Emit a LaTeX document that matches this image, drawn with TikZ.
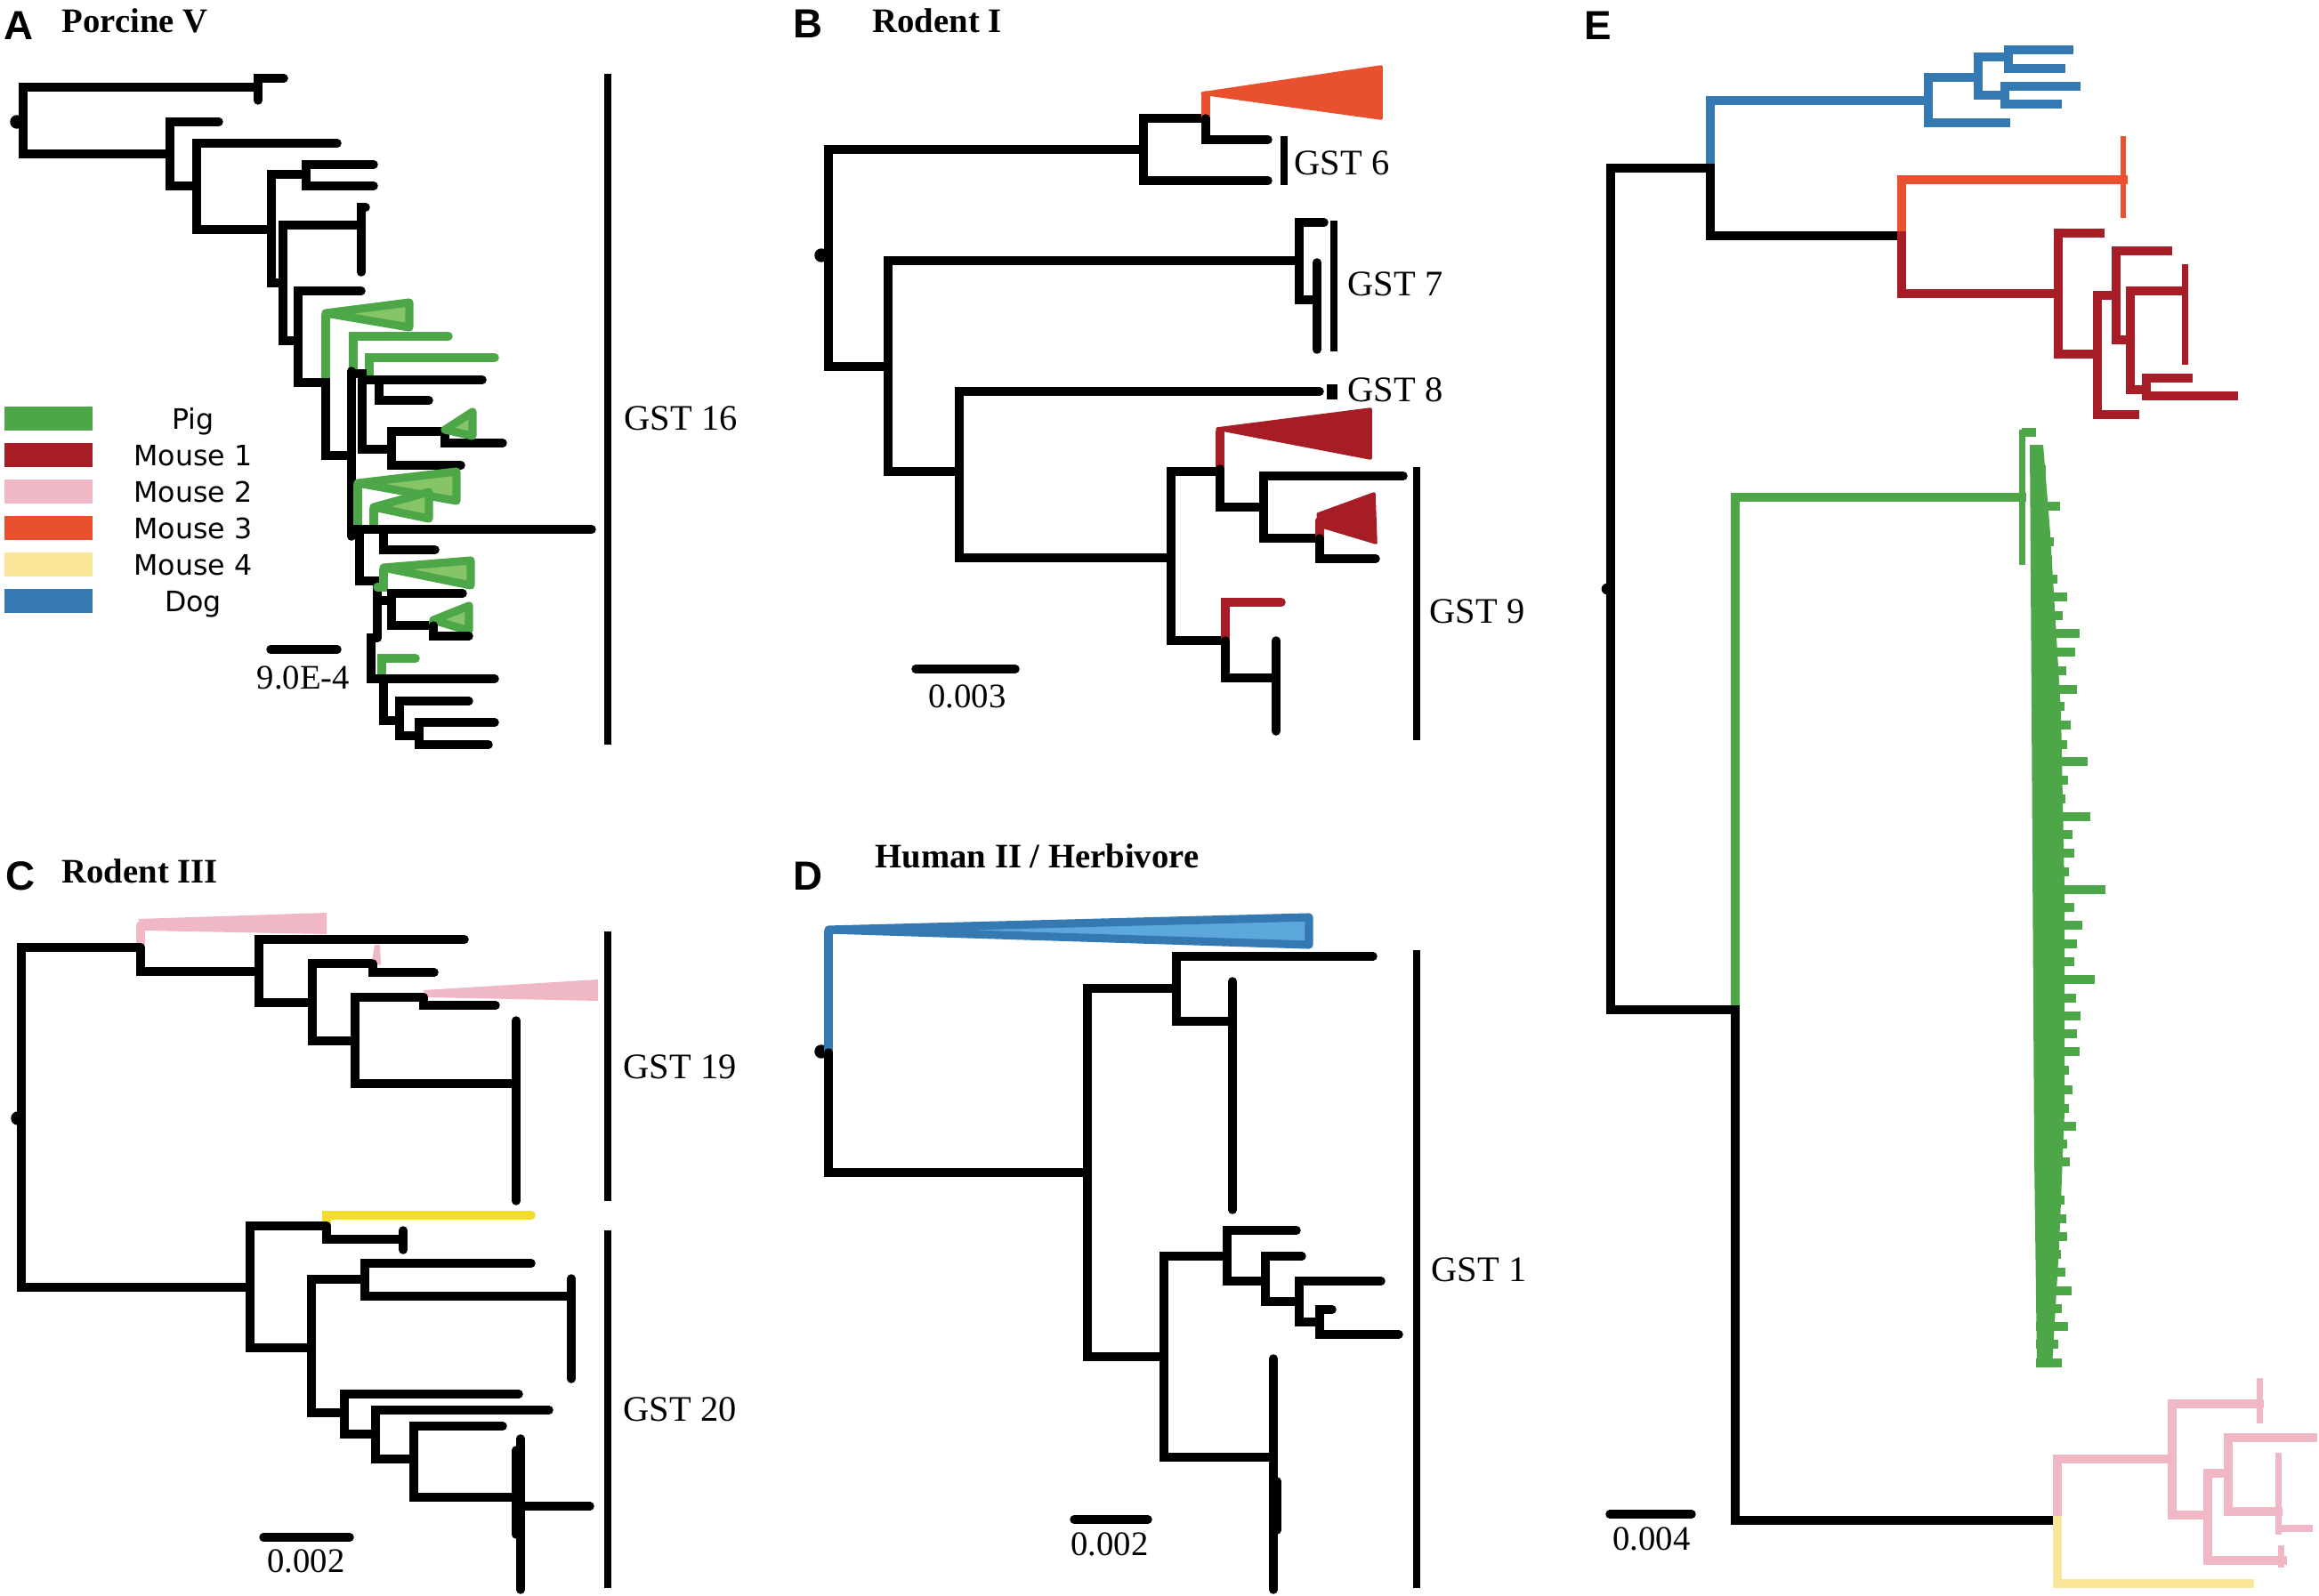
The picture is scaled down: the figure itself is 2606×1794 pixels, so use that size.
\documentclass[tikz,border=0pt]{standalone}
\usepackage{fontspec}
\setmainfont{Liberation Serif}
\newfontfamily\lettfont{Liberation Sans}
\newfontfamily\legfont{DejaVu Sans}
\definecolor{pig}{RGB}{77,167,73}
\definecolor{pigl}{RGB}{134,196,104}
\definecolor{m1}{RGB}{166,29,38}
\definecolor{m2}{RGB}{240,183,196}
\definecolor{m3}{RGB}{233,80,45}
\definecolor{m4}{RGB}{249,230,153}
\definecolor{dog}{RGB}{52,121,178}
\definecolor{dogl}{RGB}{92,168,220}
\definecolor{yel}{RGB}{242,220,45}
\begin{document}
\begin{tikzpicture}[x=0.01cm, y=-0.01cm, line join=miter,
    br/.style={line width=2.7pt, line cap=round},
    eb/.style={line width=2.9pt, line cap=rect},
    gstbar/.style={line width=2.2pt},
    tri/.style={draw=pig, fill=pigl, line width=2.6pt, line join=round},
    dtri/.style={draw=dog, fill=dogl, line width=2.6pt, line join=round},
    lett/.style={font=\lettfont\bfseries\fontsize{13}{15}\selectfont, inner sep=0, anchor=base west},
    ttl/.style={font=\bfseries\fontsize{11}{13}\selectfont, inner sep=0, anchor=base west},
    gst/.style={font=\fontsize{11.5}{13}\selectfont, inner sep=0, anchor=base west},
    sc/.style={font=\fontsize{11}{13}\selectfont, inner sep=0, anchor=base},
    leg/.style={font=\legfont\fontsize{9}{11}\selectfont, inner sep=0, anchor=base}]
\useasboundingbox (0,0) rectangle (2606,1794);

% A
\node[lett] (lA) at (4,45) {A};
\node[ttl] (tA) at (69,37) {Porcine V};
\fill (19,137) circle (2.2pt);
\draw[br] (290,98) -| (26,173) -- (191,173);
\draw[br] (319,88) -| (290,113);
\draw[br] (246,137) -| (191,209) -- (221,209);
\draw[br] (379,161) -| (221,258) -- (305,258);
\draw[br] (344,196) -| (305,318) -- (318,318);
\draw[br] (420,185) -| (344,209) -- (420,209);
\draw[br] (406,253) -| (318,383) -- (335,383);
\draw[br] (411,233) -| (406,306);
\draw[br,pig] (366,430) -- (366,354);
\draw[tri] (366,352) -- (460,340) -- (460,368) -- cycle;
\draw[br] (406,327) -| (335,430) -- (366,430) -- (366,512) -- (395,512);
\draw[br,pig] (504,378) -| (397,417);
\draw[br,pig] (556,402) -| (415,425);
\draw[br] (395,417) -- (395,603);
\draw[br] (395,420) -- (407,420) -- (407,505) -- (440,505);
\draw[br] (407,427) -- (542,427);
\draw[br] (426,427) -- (426,450) -- (482,450);
\draw[br] (500,485) -| (440,523) -- (518,523);
\draw[br] (500,485) -- (500,498) -- (565,498);
\draw[tri] (500,483) -- (531,463) -- (531,490) -- cycle;
\draw[br,pig] (402,595) -- (402,545);
\draw[tri] (402,543) -- (513,530) -- (513,563) -- cycle;
\draw[br,pig] (420,595) -- (420,572);
\draw[tri] (420,570) -- (482,553) -- (482,583) -- cycle;
\draw[br] (395,595) -- (665,595);
\draw[br] (431,595) -- (431,618) -- (489,618);
\draw[br] (404,600) -- (404,653) -- (424,653) -- (424,717);
\draw[br,pig] (424,660) -- (431,660) -- (431,640);
\draw[tri] (431,638) -- (529,630) -- (529,658) -- cycle;
\draw[br] (424,675) -- (440,675);
\draw[br] (520,667) -| (440,703) -- (487,703);
\draw[br,pig] (487,703) -- (487,699);
\draw[tri] (487,697) -- (527,681) -- (527,709) -- cycle;
\draw[br] (487,703) -- (487,715) -- (527,715);
\draw[br,pig] (429,762) -- (429,740) -- (467,740);
\draw[br] (424,717) -- (417,717) -- (417,763) -- (556,763);
\draw[br] (431,763) -- (431,810) -- (449,810);
\draw[br] (527,788) -| (449,827) -- (471,827);
\draw[br] (556,812) -| (471,837) -- (549,837);
\draw[br] (304,730) -- (379,730);
\node[sc] (sA) at (341,774) {9.0E-4};
\draw[gstbar] (683,83) -- (683,837);
\node[gst] (g16) at (701,483) {GST 16};
\foreach \c/\t [count=\i] in {pig/Pig, m1/Mouse 1, m2/Mouse 2, m3/Mouse 3, m4/Mouse 4, dog/Dog}{
  \fill[\c] (5,416+41*\i) rectangle (104,443+41*\i);
  \node[leg] (lg\i) at (217,441+41*\i) {\t};
}

% B
\node[lett] (lB) at (891,43) {B};
\node[ttl] (tB) at (980,37) {Rodent I};
\fill (923,287) circle (2.2pt);
\draw[br] (1285,168) -| (931,412) -- (998,412);
\draw[br] (1355,133) -| (1285,203) -- (1425,203);
\filldraw[m3, line width=1pt, line join=round] (1351,105) -- (1552,75) -- (1552,133) -- cycle;
\draw[br,m3] (1355,133) -- (1355,107);
\draw[br] (1355,133) -- (1355,157) -- (1425,157);
\draw[gstbar] (1443,153) -- (1443,208);
\node[gst] (g6) at (1454,197) {GST 6};
\draw[br] (1460,293) -| (998,530) -- (1078,530);
\draw[br] (1488,250) -| (1460,337) -- (1480,337);
\draw[br] (1480,295) -- (1480,393);
\draw[gstbar] (1499,248) -- (1499,395);
\node[gst] (g7) at (1514,332) {GST 7};
\draw[br] (1483,440) -| (1078,627) -- (1316,627);
\draw[gstbar, line width=3.4pt] (1497,432) -- (1497,449);
\node[gst] (g8) at (1514,451) {GST 8};
\draw[br] (1371,530) -| (1316,720) -- (1377,720);
\filldraw[m1, line width=1pt, line join=round] (1368,482) -- (1540,460) -- (1540,515) -- cycle;
\draw[br,m1] (1371,527) -- (1371,485);
\draw[br] (1371,527) -- (1371,570) -- (1420,570);
\draw[br] (1577,535) -| (1420,605) -- (1483,605);
\filldraw[m1, line width=1pt, line join=round] (1481,578) -- (1544,555) -- (1546,610) -- (1486,592) -- cycle;
\draw[br,m1] (1483,603) -- (1483,585);
\draw[br] (1483,605) -- (1483,628) -- (1546,628);
\draw[br,m1] (1377,720) -- (1377,677) -- (1440,677);
\draw[br] (1377,720) -- (1377,762) -- (1434,762);
\draw[br] (1434,720) -- (1434,822);
\draw[gstbar] (1592,525) -- (1592,832);
\node[gst] (g9) at (1606,700) {GST 9};
\draw[br] (1029,752) -- (1141,752);
\node[sc] (sB) at (1087,795) {0.003};

% C
\node[lett] (lC) at (6,1000) {C};
\node[ttl] (tC) at (69,992) {Rodent III};
\fill (20,1257) circle (2.2pt);
\fill[m2] (155,1033) -- (367,1026) -- (367,1050) -- (163,1046) -- cycle;
\draw[br,m2] (158,1062) -- (158,1040);
\draw[br] (158,1065) -| (24,1447) -- (281,1447);
\draw[br] (158,1065) -- (158,1092) -- (291,1092);
\draw[br] (522,1056) -| (291,1127) -- (351,1127);
\draw[br] (419,1083) -| (351,1170) -- (399,1170);
\fill[m2] (417,1086) -- (421,1062) -- (427,1062) -- (428,1084) -- cycle;
\draw[br] (419,1083) -- (419,1093) -- (488,1093);
\fill[m2] (476,1113) -- (672,1101) -- (672,1125) -- (478,1121) -- cycle;
\draw[br] (476,1121) -| (399,1218) -- (580,1218);
\draw[br] (476,1121) -- (476,1130) -- (557,1130);
\draw[br] (580,1147) -- (580,1350);
\draw[gstbar] (683,1047) -- (683,1350);
\node[gst] (g19) at (700,1212) {GST 19};
\draw[br,yel] (367,1378) -- (367,1366) -- (597,1366);
\draw[br] (367,1378) -| (281,1515) -- (350,1515);
\draw[br] (367,1378) -- (367,1393) -- (453,1393);
\draw[br] (453,1383) -- (453,1405);
\draw[br] (410,1438) -| (350,1588) -- (387,1588);
\draw[br] (597,1420) -| (410,1457) -- (642,1457);
\draw[br] (642,1437) -- (642,1550);
\draw[br] (583,1567) -| (387,1612) -- (422,1612);
\draw[br] (617,1585) -| (422,1640) -- (465,1640);
\draw[br] (565,1603) -| (465,1683) -- (585,1683);
\draw[br] (585,1617) -- (585,1787);
\draw[br] (580,1630) -- (580,1725);
\draw[br] (585,1693) -- (663,1693);
\draw[gstbar] (683,1383) -- (683,1785);
\node[gst] (g20) at (700,1597) {GST 20};
\draw[br] (296,1728) -- (393,1728);
\node[sc] (sC) at (344,1767) {0.002};

% D
\node[lett] (lD) at (891,1000) {D};
\node[ttl] (tD) at (983,975) {Human II / Herbivore};
\fill (923,1182) circle (2.2pt);
\draw[br,dog] (931,1183) -- (931,1047);
\draw[dtri] (931,1045) -- (1471,1031) -- (1471,1062) -- cycle;
\draw[br] (931,1183) -- (931,1318) -- (1222,1318);
\draw[br] (1322,1111) -| (1222,1525) -- (1308,1525);
\draw[br] (1543,1075) -| (1322,1148) -- (1385,1148);
\draw[br] (1385,1103) -- (1385,1360);
\draw[br] (1379,1412) -| (1308,1638) -- (1431,1638);
\draw[br] (1457,1383) -| (1379,1440) -- (1422,1440);
\draw[br] (1463,1412) -| (1422,1463) -- (1460,1463);
\draw[br] (1552,1440) -| (1460,1486) -- (1483,1486);
\draw[br] (1497,1472) -| (1483,1500) -- (1572,1500);
\draw[br] (1431,1527) -- (1431,1787);
\draw[br] (1435,1665) -- (1435,1720);
\draw[gstbar] (1592,1068) -- (1592,1785);
\node[gst] (g1) at (1608,1440) {GST 1};
\draw[br] (1207,1708) -- (1290,1708);
\node[sc] (sD) at (1247,1748) {0.002};

% E
\node[lett] (lE) at (1780,45) {E};
\fill (1806,662) circle (1.8pt);
\draw[eb] (1922,189) -| (1810,1135) -- (1950,1135);
\draw[eb,dog] (2167,113) -| (1922,189);
\draw[eb] (1922,189) -- (1922,265) -- (2137,265);
\draw[eb,dog] (2223,87) -| (2167,138) -- (2254,138);
\draw[eb,dog] (2257,64) -| (2223,107) -- (2253,107);
\draw[eb,dog] (2325,56) -| (2257,77) -- (2316,77);
\draw[eb,dog] (2333,97) -| (2253,117) -- (2312,117);
\draw[eb,m3] (2386,202) -| (2137,265);
\draw[m3, line width=1.6pt] (2386,153) -- (2386,245);
\draw[eb,m1] (2137,265) |- (2313,330);
\draw[eb,m1] (2360,262) -| (2313,398) -- (2357,398);
\draw[eb,m1] (2378,332) -| (2357,466) -- (2399,466);
\draw[eb,m1] (2436,282) -| (2378,382) -- (2394,382);
\draw[eb,m1] (2454,327) -| (2394,438) -- (2412,438);
\draw[m1, line width=2pt] (2455,297) -- (2455,410);
\draw[eb,m1] (2459,425) -| (2412,445) -- (2510,445);
\draw[eb,pig] (1950,1135) -- (1950,559) -- (2272,559);
\draw[pig, line width=2pt] (2272,483) -- (2272,635);
\draw[pig, line width=2.6pt] (2272,486) -- (2288,486);
\fill[pig] (2281,500) -- (2296,500) -- (2304,600) -- (2316,800) -- (2320,1000) -- (2320,1250)
  -- (2314,1400) -- (2306,1537) -- (2289,1537) -- (2286,1300) -- (2283,800) -- cycle;
\foreach \y/\x in {507/2294, 528/2299, 548/2296, 569/2315, 590/2302, 609/2308, 630/2306,
    651/2312, 671/2323, 692/2318, 712/2337, 733/2332, 754/2322, 775/2334, 794/2320,
    815/2327, 837/2323, 856/2346, 877/2324, 898/2321, 918/2349, 938/2329, 959/2331,
    980/2325, 1000/2366, 1020/2331, 1040/2340, 1061/2334, 1081/2331, 1101/2354,
    1122/2333, 1142/2338, 1162/2334, 1182/2337, 1203/2325, 1225/2329, 1246/2325,
    1266/2333, 1286/2323, 1306/2326, 1327/2317, 1349/2320, 1370/2322, 1390/2323,
    1410/2316, 1430/2321, 1451/2328, 1471/2317, 1491/2324, 1511/2313, 1532/2317}
  \draw[pig, line width=3pt] (2288,\y) -- (\x,\y);
\draw[eb] (1950,1135) -- (1950,1709) -- (2312,1709);
\draw[eb,m2] (2312,1709) |- (2441,1640);
\draw[eb,m4] (2312,1709) |- (2528,1780);
\draw[eb,m2] (2539,1578) -| (2441,1703) -- (2481,1703);
\draw[m2, line width=2pt] (2539,1549) -- (2539,1600);
\draw[eb,m2] (2504,1656) -| (2481,1754) -- (2565,1754);
\draw[eb,m2] (2599,1616) -| (2504,1699) -- (2560,1699);
\draw[m2, line width=2pt] (2560,1633) -- (2560,1725);
\draw[m2, line width=2.3pt] (2560,1718) -- (2599,1718);
\draw[m2, line width=2pt] (2563,1737) -- (2563,1762);
\draw[br] (1809,1702) -- (1901,1702);
\node[sc] (sE) at (1856,1742) {0.004};
\end{tikzpicture}
\end{document}
